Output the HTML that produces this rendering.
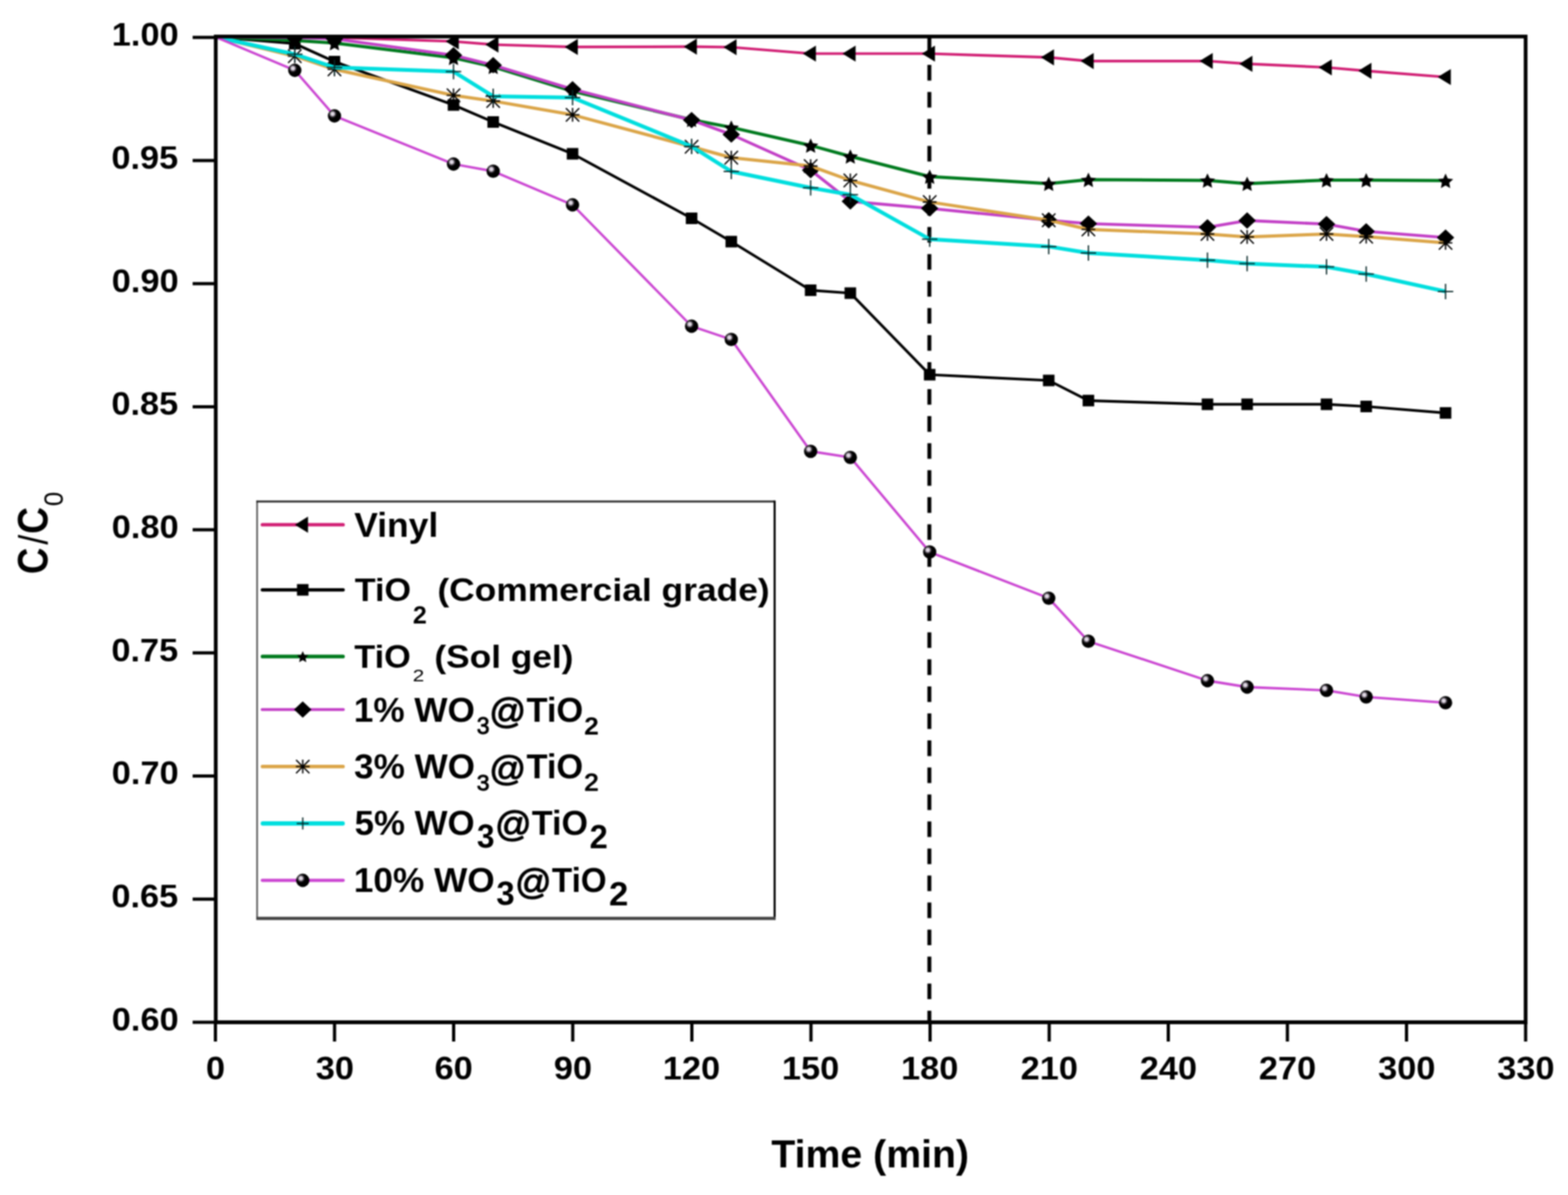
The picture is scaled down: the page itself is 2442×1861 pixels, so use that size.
<!DOCTYPE html><html><head><meta charset="utf-8"><title>C/C0 vs Time</title><style>html,body{margin:0;padding:0;background:#fff;overflow:hidden}svg{display:block;filter:blur(1px)}text{font-family:"Liberation Sans",Arial,sans-serif;font-weight:bold;fill:#000}</style></head><body>
<svg width="2442" height="1861" viewBox="0 0 2442 1861">
<defs><radialGradient id="sph" cx="0.36" cy="0.35" r="0.7" fx="0.36" fy="0.35"><stop offset="0" stop-color="#ece6f0"/><stop offset="0.17" stop-color="#d8d0dc"/><stop offset="0.33" stop-color="#3a353c"/><stop offset="0.46" stop-color="#000"/></radialGradient></defs>
<rect width="2442" height="1861" fill="#fff"/>
<clipPath id="pc"><rect x="336.0" y="56.8" width="2040.0" height="1535.2"/></clipPath>
<g clip-path="url(#pc)">
<line x1="1447.4" y1="59" x2="1447.4" y2="1592.0" stroke="#000" stroke-width="6.1" stroke-dasharray="24.3 17.78"/>
<polyline points="335.5,57.5 459.1,57.8 520.9,58.3 706.3,64.5 768.1,69.5 891.7,73.2 1077.1,72.7 1138.9,73.5 1262.5,83.5 1324.3,83.5 1447.9,83.5 1633.3,89.3 1695.1,95.1 1880.5,95.0 1942.3,99.4 2065.9,105.0 2127.7,110.3 2251.3,120.0" fill="none" stroke="#D11F74" stroke-width="4.2" stroke-linejoin="round"/>
<g fill="#000">
<path d="M446.9,57.8L467.3,45.2L467.3,70.4Z"/>
<path d="M508.7,58.3L529.1,45.7L529.1,70.9Z"/>
<path d="M694.1,64.5L714.5,51.9L714.5,77.1Z"/>
<path d="M755.9,69.5L776.3,56.9L776.3,82.1Z"/>
<path d="M879.5,73.2L899.9,60.6L899.9,85.8Z"/>
<path d="M1064.9,72.7L1085.3,60.1L1085.3,85.3Z"/>
<path d="M1126.7,73.5L1147.1,60.9L1147.1,86.1Z"/>
<path d="M1250.3,83.5L1270.7,70.9L1270.7,96.1Z"/>
<path d="M1312.1,83.5L1332.5,70.9L1332.5,96.1Z"/>
<path d="M1435.7,83.5L1456.1,70.9L1456.1,96.1Z"/>
<path d="M1621.1,89.3L1641.5,76.7L1641.5,101.9Z"/>
<path d="M1682.9,95.1L1703.3,82.5L1703.3,107.7Z"/>
<path d="M1868.3,95.0L1888.7,82.4L1888.7,107.6Z"/>
<path d="M1930.1,99.4L1950.5,86.8L1950.5,112.0Z"/>
<path d="M2053.7,105.0L2074.1,92.4L2074.1,117.6Z"/>
<path d="M2115.5,110.3L2135.9,97.7L2135.9,122.9Z"/>
<path d="M2239.1,120.0L2259.5,107.4L2259.5,132.6Z"/>
</g>
<polyline points="335.5,57.5 459.1,68.0 520.9,96.0 706.3,163.5 768.1,190.0 891.7,239.5 1077.1,340.0 1138.9,376.3 1262.5,452.0 1324.3,456.5 1447.9,583.5 1633.3,592.5 1695.1,623.8 1880.5,629.6 1942.3,629.6 2065.9,629.6 2127.7,633.0 2251.3,643.1" fill="none" stroke="#000000" stroke-width="4.2" stroke-linejoin="round"/>
<g fill="#000">
<rect x="450.1" y="59.0" width="18.0" height="18.0"/>
<rect x="511.9" y="87.0" width="18.0" height="18.0"/>
<rect x="697.3" y="154.5" width="18.0" height="18.0"/>
<rect x="759.1" y="181.0" width="18.0" height="18.0"/>
<rect x="882.7" y="230.5" width="18.0" height="18.0"/>
<rect x="1068.1" y="331.0" width="18.0" height="18.0"/>
<rect x="1129.9" y="367.3" width="18.0" height="18.0"/>
<rect x="1253.5" y="443.0" width="18.0" height="18.0"/>
<rect x="1315.3" y="447.5" width="18.0" height="18.0"/>
<rect x="1438.9" y="574.5" width="18.0" height="18.0"/>
<rect x="1624.3" y="583.5" width="18.0" height="18.0"/>
<rect x="1686.1" y="614.8" width="18.0" height="18.0"/>
<rect x="1871.5" y="620.6" width="18.0" height="18.0"/>
<rect x="1933.3" y="620.6" width="18.0" height="18.0"/>
<rect x="2056.9" y="620.6" width="18.0" height="18.0"/>
<rect x="2118.7" y="624.0" width="18.0" height="18.0"/>
<rect x="2242.3" y="634.1" width="18.0" height="18.0"/>
</g>
<polyline points="335.5,57.5 459.1,63.0 520.9,67.0 706.3,90.0 768.1,104.0 891.7,142.0 1077.1,186.5 1138.9,198.4 1262.5,226.5 1324.3,243.5 1447.9,275.0 1633.3,286.0 1695.1,279.8 1880.5,281.0 1942.3,286.0 2065.9,280.4 2127.7,280.4 2251.3,281.3" fill="none" stroke="#007A1E" stroke-width="5.0" stroke-linejoin="round"/>
<g fill="#000">
<polygon points="459.1,52.0 462.6,59.6 471.0,60.6 464.8,66.4 466.4,74.6 459.1,70.5 451.8,74.6 453.4,66.4 447.2,60.6 455.6,59.6"/>
<polygon points="520.9,56.0 524.4,63.6 532.8,64.6 526.6,70.4 528.2,78.6 520.9,74.5 513.6,78.6 515.2,70.4 509.0,64.6 517.4,63.6"/>
<polygon points="706.3,79.0 709.8,86.6 718.2,87.6 712.0,93.4 713.6,101.6 706.3,97.5 699.0,101.6 700.6,93.4 694.4,87.6 702.8,86.6"/>
<polygon points="768.1,93.0 771.6,100.6 780.0,101.6 773.8,107.4 775.4,115.6 768.1,111.5 760.8,115.6 762.4,107.4 756.2,101.6 764.6,100.6"/>
<polygon points="891.7,131.0 895.2,138.6 903.6,139.6 897.4,145.4 899.0,153.6 891.7,149.5 884.4,153.6 886.0,145.4 879.8,139.6 888.2,138.6"/>
<polygon points="1077.1,175.5 1080.6,183.1 1089.0,184.1 1082.8,189.9 1084.4,198.1 1077.1,194.0 1069.8,198.1 1071.4,189.9 1065.2,184.1 1073.6,183.1"/>
<polygon points="1138.9,187.4 1142.4,195.0 1150.8,196.0 1144.6,201.8 1146.2,210.0 1138.9,205.9 1131.6,210.0 1133.2,201.8 1127.0,196.0 1135.4,195.0"/>
<polygon points="1262.5,215.5 1266.0,223.1 1274.4,224.1 1268.2,229.9 1269.8,238.1 1262.5,234.0 1255.2,238.1 1256.8,229.9 1250.6,224.1 1259.0,223.1"/>
<polygon points="1324.3,232.5 1327.8,240.1 1336.2,241.1 1330.0,246.9 1331.6,255.1 1324.3,251.0 1317.0,255.1 1318.6,246.9 1312.4,241.1 1320.8,240.1"/>
<polygon points="1447.9,264.0 1451.4,271.6 1459.8,272.6 1453.6,278.4 1455.2,286.6 1447.9,282.5 1440.6,286.6 1442.2,278.4 1436.0,272.6 1444.4,271.6"/>
<polygon points="1633.3,275.0 1636.8,282.6 1645.2,283.6 1639.0,289.4 1640.6,297.6 1633.3,293.5 1626.0,297.6 1627.6,289.4 1621.4,283.6 1629.8,282.6"/>
<polygon points="1695.1,268.8 1698.6,276.4 1707.0,277.4 1700.8,283.2 1702.4,291.4 1695.1,287.3 1687.8,291.4 1689.4,283.2 1683.2,277.4 1691.6,276.4"/>
<polygon points="1880.5,270.0 1884.0,277.6 1892.4,278.6 1886.2,284.4 1887.8,292.6 1880.5,288.5 1873.2,292.6 1874.8,284.4 1868.6,278.6 1877.0,277.6"/>
<polygon points="1942.3,275.0 1945.8,282.6 1954.2,283.6 1948.0,289.4 1949.6,297.6 1942.3,293.5 1935.0,297.6 1936.6,289.4 1930.4,283.6 1938.8,282.6"/>
<polygon points="2065.9,269.4 2069.4,277.0 2077.8,278.0 2071.6,283.8 2073.2,292.0 2065.9,287.9 2058.6,292.0 2060.2,283.8 2054.0,278.0 2062.4,277.0"/>
<polygon points="2127.7,269.4 2131.2,277.0 2139.6,278.0 2133.4,283.8 2135.0,292.0 2127.7,287.9 2120.4,292.0 2122.0,283.8 2115.8,278.0 2124.2,277.0"/>
<polygon points="2251.3,270.3 2254.8,277.9 2263.2,278.9 2257.0,284.7 2258.6,292.9 2251.3,288.8 2244.0,292.9 2245.6,284.7 2239.4,278.9 2247.8,277.9"/>
</g>
<polyline points="335.5,57.5 459.1,58.5 520.9,60.5 706.3,86.0 768.1,101.5 891.7,139.0 1077.1,187.0 1138.9,209.5 1262.5,265.0 1324.3,313.6 1447.9,324.5 1633.3,343.0 1695.1,348.2 1880.5,354.0 1942.3,343.4 2065.9,349.0 2127.7,360.2 2251.3,370.0" fill="none" stroke="#C23FC6" stroke-width="4.6" stroke-linejoin="round"/>
<g fill="#000">
<path d="M459.1,45.7L472.7,58.5L459.1,71.3L445.5,58.5Z"/>
<path d="M520.9,47.7L534.5,60.5L520.9,73.3L507.3,60.5Z"/>
<path d="M706.3,73.2L719.9,86.0L706.3,98.8L692.7,86.0Z"/>
<path d="M768.1,88.7L781.7,101.5L768.1,114.3L754.5,101.5Z"/>
<path d="M891.7,126.2L905.3,139.0L891.7,151.8L878.1,139.0Z"/>
<path d="M1077.1,174.2L1090.7,187.0L1077.1,199.8L1063.5,187.0Z"/>
<path d="M1138.9,196.7L1152.5,209.5L1138.9,222.3L1125.3,209.5Z"/>
<path d="M1262.5,252.2L1276.1,265.0L1262.5,277.8L1248.9,265.0Z"/>
<path d="M1324.3,300.8L1337.9,313.6L1324.3,326.4L1310.7,313.6Z"/>
<path d="M1447.9,311.7L1461.5,324.5L1447.9,337.3L1434.3,324.5Z"/>
<path d="M1633.3,330.2L1646.9,343.0L1633.3,355.8L1619.7,343.0Z"/>
<path d="M1695.1,335.4L1708.7,348.2L1695.1,361.0L1681.5,348.2Z"/>
<path d="M1880.5,341.2L1894.1,354.0L1880.5,366.8L1866.9,354.0Z"/>
<path d="M1942.3,330.6L1955.9,343.4L1942.3,356.2L1928.7,343.4Z"/>
<path d="M2065.9,336.2L2079.5,349.0L2065.9,361.8L2052.3,349.0Z"/>
<path d="M2127.7,347.4L2141.3,360.2L2127.7,373.0L2114.1,360.2Z"/>
<path d="M2251.3,357.2L2264.9,370.0L2251.3,382.8L2237.7,370.0Z"/>
</g>
<polyline points="335.5,57.5 459.1,87.5 520.9,108.0 706.3,148.5 768.1,157.4 891.7,178.8 1077.1,228.5 1138.9,245.5 1262.5,258.6 1324.3,281.0 1447.9,314.6 1633.3,343.0 1695.1,357.3 1880.5,364.4 1942.3,369.0 2065.9,364.4 2127.7,368.6 2251.3,378.3" fill="none" stroke="#DBA548" stroke-width="5.0" stroke-linejoin="round"/>
<g fill="#000">
<path d="M448.4,87.5H469.8M459.1,76.8V98.2M448.7,77.1L469.5,97.9M448.7,97.9L469.5,77.1" stroke="#000" stroke-width="2.1" fill="none"/>
<path d="M510.2,108.0H531.6M520.9,97.3V118.7M510.5,97.6L531.3,118.4M510.5,118.4L531.3,97.6" stroke="#000" stroke-width="2.1" fill="none"/>
<path d="M695.6,148.5H717.0M706.3,137.8V159.2M695.9,138.1L716.7,158.9M695.9,158.9L716.7,138.1" stroke="#000" stroke-width="2.1" fill="none"/>
<path d="M757.4,157.4H778.8M768.1,146.7V168.1M757.7,147.0L778.5,167.8M757.7,167.8L778.5,147.0" stroke="#000" stroke-width="2.1" fill="none"/>
<path d="M881.0,178.8H902.4M891.7,168.1V189.5M881.3,168.4L902.1,189.2M881.3,189.2L902.1,168.4" stroke="#000" stroke-width="2.1" fill="none"/>
<path d="M1066.4,228.5H1087.8M1077.1,217.8V239.2M1066.7,218.1L1087.5,238.9M1066.7,238.9L1087.5,218.1" stroke="#000" stroke-width="2.1" fill="none"/>
<path d="M1128.2,245.5H1149.6M1138.9,234.8V256.2M1128.5,235.1L1149.3,255.9M1128.5,255.9L1149.3,235.1" stroke="#000" stroke-width="2.1" fill="none"/>
<path d="M1251.8,258.6H1273.2M1262.5,247.9V269.3M1252.1,248.2L1272.9,269.0M1252.1,269.0L1272.9,248.2" stroke="#000" stroke-width="2.1" fill="none"/>
<path d="M1313.6,281.0H1335.0M1324.3,270.3V291.7M1313.9,270.6L1334.7,291.4M1313.9,291.4L1334.7,270.6" stroke="#000" stroke-width="2.1" fill="none"/>
<path d="M1437.2,314.6H1458.6M1447.9,303.9V325.3M1437.5,304.2L1458.3,325.0M1437.5,325.0L1458.3,304.2" stroke="#000" stroke-width="2.1" fill="none"/>
<path d="M1622.6,343.0H1644.0M1633.3,332.3V353.7M1622.9,332.6L1643.7,353.4M1622.9,353.4L1643.7,332.6" stroke="#000" stroke-width="2.1" fill="none"/>
<path d="M1684.4,357.3H1705.8M1695.1,346.6V368.0M1684.7,346.9L1705.5,367.7M1684.7,367.7L1705.5,346.9" stroke="#000" stroke-width="2.1" fill="none"/>
<path d="M1869.8,364.4H1891.2M1880.5,353.7V375.1M1870.1,354.0L1890.9,374.8M1870.1,374.8L1890.9,354.0" stroke="#000" stroke-width="2.1" fill="none"/>
<path d="M1931.6,369.0H1953.0M1942.3,358.3V379.7M1931.9,358.6L1952.7,379.4M1931.9,379.4L1952.7,358.6" stroke="#000" stroke-width="2.1" fill="none"/>
<path d="M2055.2,364.4H2076.6M2065.9,353.7V375.1M2055.5,354.0L2076.3,374.8M2055.5,374.8L2076.3,354.0" stroke="#000" stroke-width="2.1" fill="none"/>
<path d="M2117.0,368.6H2138.4M2127.7,357.9V379.3M2117.3,358.2L2138.1,379.0M2117.3,379.0L2138.1,358.2" stroke="#000" stroke-width="2.1" fill="none"/>
<path d="M2240.6,378.3H2262.0M2251.3,367.6V389.0M2240.9,367.9L2261.7,388.7M2240.9,388.7L2261.7,367.9" stroke="#000" stroke-width="2.1" fill="none"/>
</g>
<polyline points="335.5,57.5 459.1,84.5 520.9,105.0 706.3,111.5 768.1,150.0 891.7,152.0 1077.1,228.0 1138.9,267.0 1262.5,292.5 1324.3,303.3 1447.9,372.5 1633.3,383.9 1695.1,394.0 1880.5,405.2 1942.3,410.5 2065.9,415.6 2127.7,426.8 2251.3,453.9" fill="none" stroke="#00DEDE" stroke-width="6.0" stroke-linejoin="round"/>
<g fill="#000">
<path d="M447.1,84.5H471.1M459.1,72.5V96.5" stroke="#062626" stroke-width="2" fill="none"/>
<path d="M508.9,105.0H532.9M520.9,93.0V117.0" stroke="#062626" stroke-width="2" fill="none"/>
<path d="M694.3,111.5H718.3M706.3,99.5V123.5" stroke="#062626" stroke-width="2" fill="none"/>
<path d="M756.1,150.0H780.1M768.1,138.0V162.0" stroke="#062626" stroke-width="2" fill="none"/>
<path d="M879.7,152.0H903.7M891.7,140.0V164.0" stroke="#062626" stroke-width="2" fill="none"/>
<path d="M1065.1,228.0H1089.1M1077.1,216.0V240.0" stroke="#062626" stroke-width="2" fill="none"/>
<path d="M1126.9,267.0H1150.9M1138.9,255.0V279.0" stroke="#062626" stroke-width="2" fill="none"/>
<path d="M1250.5,292.5H1274.5M1262.5,280.5V304.5" stroke="#062626" stroke-width="2" fill="none"/>
<path d="M1312.3,303.3H1336.3M1324.3,291.3V315.3" stroke="#062626" stroke-width="2" fill="none"/>
<path d="M1435.9,372.5H1459.9M1447.9,360.5V384.5" stroke="#062626" stroke-width="2" fill="none"/>
<path d="M1621.3,383.9H1645.3M1633.3,371.9V395.9" stroke="#062626" stroke-width="2" fill="none"/>
<path d="M1683.1,394.0H1707.1M1695.1,382.0V406.0" stroke="#062626" stroke-width="2" fill="none"/>
<path d="M1868.5,405.2H1892.5M1880.5,393.2V417.2" stroke="#062626" stroke-width="2" fill="none"/>
<path d="M1930.3,410.5H1954.3M1942.3,398.5V422.5" stroke="#062626" stroke-width="2" fill="none"/>
<path d="M2053.9,415.6H2077.9M2065.9,403.6V427.6" stroke="#062626" stroke-width="2" fill="none"/>
<path d="M2115.7,426.8H2139.7M2127.7,414.8V438.8" stroke="#062626" stroke-width="2" fill="none"/>
<path d="M2239.3,453.9H2263.3M2251.3,441.9V465.9" stroke="#062626" stroke-width="2" fill="none"/>
</g>
<polyline points="335.5,57.5 459.1,109.5 520.9,180.5 706.3,255.5 768.1,266.7 891.7,319.0 1077.1,508.0 1138.9,528.7 1262.5,702.8 1324.3,712.3 1447.9,859.7 1633.3,931.6 1695.1,998.7 1880.5,1060.0 1942.3,1070.0 2065.9,1075.1 2127.7,1085.3 2251.3,1094.4" fill="none" stroke="#CB46D2" stroke-width="3.8" stroke-linejoin="round"/>
<g fill="#000">
<circle cx="459.1" cy="109.5" r="10.4" fill="url(#sph)"/>
<circle cx="520.9" cy="180.5" r="10.4" fill="url(#sph)"/>
<circle cx="706.3" cy="255.5" r="10.4" fill="url(#sph)"/>
<circle cx="768.1" cy="266.7" r="10.4" fill="url(#sph)"/>
<circle cx="891.7" cy="319.0" r="10.4" fill="url(#sph)"/>
<circle cx="1077.1" cy="508.0" r="10.4" fill="url(#sph)"/>
<circle cx="1138.9" cy="528.7" r="10.4" fill="url(#sph)"/>
<circle cx="1262.5" cy="702.8" r="10.4" fill="url(#sph)"/>
<circle cx="1324.3" cy="712.3" r="10.4" fill="url(#sph)"/>
<circle cx="1447.9" cy="859.7" r="10.4" fill="url(#sph)"/>
<circle cx="1633.3" cy="931.6" r="10.4" fill="url(#sph)"/>
<circle cx="1695.1" cy="998.7" r="10.4" fill="url(#sph)"/>
<circle cx="1880.5" cy="1060.0" r="10.4" fill="url(#sph)"/>
<circle cx="1942.3" cy="1070.0" r="10.4" fill="url(#sph)"/>
<circle cx="2065.9" cy="1075.1" r="10.4" fill="url(#sph)"/>
<circle cx="2127.7" cy="1085.3" r="10.4" fill="url(#sph)"/>
<circle cx="2251.3" cy="1094.4" r="10.4" fill="url(#sph)"/>
</g>
</g>
<path d="M336.0,56.8H2376.0V1592.0H336.0Z" fill="none" stroke="#000" stroke-width="5.8"/>
<line x1="300" y1="58.3" x2="336.0" y2="58.3" stroke="#000" stroke-width="5"/>
<text transform="translate(174.09 71.20) scale(1.0550 1)" font-size="50.7">1.00</text>
<line x1="300" y1="250.0" x2="336.0" y2="250.0" stroke="#000" stroke-width="5"/>
<text transform="translate(173.38 262.90) scale(1.0550 1)" font-size="50.7">0.95</text>
<line x1="300" y1="441.7" x2="336.0" y2="441.7" stroke="#000" stroke-width="5"/>
<text transform="translate(174.09 454.60) scale(1.0550 1)" font-size="50.7">0.90</text>
<line x1="300" y1="633.4" x2="336.0" y2="633.4" stroke="#000" stroke-width="5"/>
<text transform="translate(173.38 646.30) scale(1.0550 1)" font-size="50.7">0.85</text>
<line x1="300" y1="825.1" x2="336.0" y2="825.1" stroke="#000" stroke-width="5"/>
<text transform="translate(174.09 838.00) scale(1.0550 1)" font-size="50.7">0.80</text>
<line x1="300" y1="1016.8" x2="336.0" y2="1016.8" stroke="#000" stroke-width="5"/>
<text transform="translate(173.38 1029.70) scale(1.0550 1)" font-size="50.7">0.75</text>
<line x1="300" y1="1208.5" x2="336.0" y2="1208.5" stroke="#000" stroke-width="5"/>
<text transform="translate(174.09 1221.40) scale(1.0550 1)" font-size="50.7">0.70</text>
<line x1="300" y1="1400.2" x2="336.0" y2="1400.2" stroke="#000" stroke-width="5"/>
<text transform="translate(173.38 1413.10) scale(1.0550 1)" font-size="50.7">0.65</text>
<line x1="300" y1="1591.9" x2="336.0" y2="1591.9" stroke="#000" stroke-width="5"/>
<text transform="translate(174.09 1604.80) scale(1.0550 1)" font-size="50.7">0.60</text>
<line x1="335.5" y1="1592.0" x2="335.5" y2="1622" stroke="#000" stroke-width="5"/>
<text transform="translate(320.65 1681.30) scale(1.0600 1)" font-size="50.5">0</text>
<line x1="521.0" y1="1592.0" x2="521.0" y2="1622" stroke="#000" stroke-width="5"/>
<text transform="translate(491.71 1681.30) scale(1.0600 1)" font-size="50.5">30</text>
<line x1="706.5" y1="1592.0" x2="706.5" y2="1622" stroke="#000" stroke-width="5"/>
<text transform="translate(676.85 1681.30) scale(1.0600 1)" font-size="50.5">60</text>
<line x1="892.0" y1="1592.0" x2="892.0" y2="1622" stroke="#000" stroke-width="5"/>
<text transform="translate(862.40 1681.30) scale(1.0600 1)" font-size="50.5">90</text>
<line x1="1077.5" y1="1592.0" x2="1077.5" y2="1622" stroke="#000" stroke-width="5"/>
<text transform="translate(1032.26 1681.30) scale(1.0600 1)" font-size="50.5">120</text>
<line x1="1263.0" y1="1592.0" x2="1263.0" y2="1622" stroke="#000" stroke-width="5"/>
<text transform="translate(1217.76 1681.30) scale(1.0600 1)" font-size="50.5">150</text>
<line x1="1448.5" y1="1592.0" x2="1448.5" y2="1622" stroke="#000" stroke-width="5"/>
<text transform="translate(1403.26 1681.30) scale(1.0600 1)" font-size="50.5">180</text>
<line x1="1634.0" y1="1592.0" x2="1634.0" y2="1622" stroke="#000" stroke-width="5"/>
<text transform="translate(1589.51 1681.30) scale(1.0600 1)" font-size="50.5">210</text>
<line x1="1819.5" y1="1592.0" x2="1819.5" y2="1622" stroke="#000" stroke-width="5"/>
<text transform="translate(1775.01 1681.30) scale(1.0600 1)" font-size="50.5">240</text>
<line x1="2005.0" y1="1592.0" x2="2005.0" y2="1622" stroke="#000" stroke-width="5"/>
<text transform="translate(1960.51 1681.30) scale(1.0600 1)" font-size="50.5">270</text>
<line x1="2190.5" y1="1592.0" x2="2190.5" y2="1622" stroke="#000" stroke-width="5"/>
<text transform="translate(2146.33 1681.30) scale(1.0600 1)" font-size="50.5">300</text>
<line x1="2376.0" y1="1592.0" x2="2376.0" y2="1622" stroke="#000" stroke-width="5"/>
<text transform="translate(2331.83 1681.30) scale(1.0600 1)" font-size="50.5">330</text>
<text transform="translate(1201.31 1818.20) scale(1.0087 1)" font-size="60.6">Time (min)</text>
<text transform="translate(74.00 894.03) rotate(-90) scale(0.8469 1)" font-size="67">C</text>
<text transform="translate(74.00 848.30) rotate(-90) scale(0.8940 1)" font-size="62" style="font-weight:normal">/</text>
<text transform="translate(74.00 831.58) rotate(-90) scale(0.8652 1)" font-size="67">C</text>
<text transform="translate(98.30 788.27) rotate(-90) scale(0.9609 1)" font-size="41.8" style="font-weight:normal">0</text>
<rect x="400.4" y="781.1" width="806.0" height="649.1" fill="#fff"/>
<line x1="400.4" y1="779.8000000000001" x2="400.4" y2="1430.2" stroke="#5a5a5a" stroke-width="2.6"/>
<line x1="399.09999999999997" y1="781.1" x2="1206.4" y2="781.1" stroke="#262626" stroke-width="3"/>
<line x1="1206.4" y1="779.6" x2="1206.4" y2="1432.2" stroke="#000" stroke-width="3.2"/>
<line x1="399.09999999999997" y1="1430.2" x2="1208.0" y2="1430.2" stroke="#444" stroke-width="5"/>
<line x1="408.6" y1="817.2" x2="534.4" y2="817.2" stroke="#D11F74" stroke-width="5.2" stroke-linecap="round"/>
<g fill="#000"><path d="M459.3,817.2L479.7,804.6L479.7,829.8Z"/></g>
<line x1="408.6" y1="918.6" x2="534.4" y2="918.6" stroke="#000000" stroke-width="5.2" stroke-linecap="round"/>
<g fill="#000"><rect x="462.5" y="909.6" width="18.0" height="18.0"/></g>
<line x1="408.8" y1="1022.4" x2="534.2" y2="1022.4" stroke="#007A1E" stroke-width="5.6" stroke-linecap="round"/>
<g fill="#000"><polygon points="471.5,1014.0 474.2,1019.9 480.5,1020.6 475.8,1024.9 477.1,1031.2 471.5,1028.1 465.9,1031.2 467.2,1024.9 462.5,1020.6 468.8,1019.9"/></g>
<line x1="408.2" y1="1105" x2="534.8" y2="1105" stroke="#C23FC6" stroke-width="4.4" stroke-linecap="round"/>
<g fill="#000"><path d="M471.5,1092.2L485.1,1105.0L471.5,1117.8L457.9,1105.0Z"/></g>
<line x1="408.8" y1="1193.8" x2="534.2" y2="1193.8" stroke="#DBA548" stroke-width="5.6" stroke-linecap="round"/>
<g fill="#000"><path d="M460.8,1193.8H482.2M471.5,1183.1V1204.5M461.1,1183.4L481.9,1204.2M461.1,1204.2L481.9,1183.4" stroke="#000" stroke-width="2.1" fill="none"/></g>
<line x1="409.3" y1="1282.4" x2="533.7" y2="1282.4" stroke="#00DEDE" stroke-width="6.6" stroke-linecap="round"/>
<g fill="#000"><path d="M462.1,1282.4H480.9M471.5,1273.0V1291.8" stroke="#062626" stroke-width="2" fill="none"/></g>
<line x1="408.4" y1="1371" x2="534.6" y2="1371" stroke="#CB46D2" stroke-width="4.8" stroke-linecap="round"/>
<g fill="#000"><circle cx="471.5" cy="1371.0" r="10.4" fill="url(#sph)"/></g>
<text transform="translate(551.82 836.30) scale(1.0338 1)" font-size="53.3">Vinyl</text>
<text transform="translate(552.40 936.00) scale(1.0726 1)" font-size="49.7">TiO</text>
<text transform="translate(643.05 970.80) scale(1.0276 1)" font-size="38">2</text>
<text transform="translate(681.16 936.00) scale(1.1089 1)" font-size="49.7">(Commercial grade)</text>
<text transform="translate(551.80 1040.30) scale(1.0674 1)" font-size="50">TiO</text>
<text transform="translate(642.78 1061.30) scale(1.2411 1)" font-size="26" style="font-weight:normal">2</text>
<text transform="translate(676.46 1040.30) scale(1.0992 1)" font-size="50">(Sol gel)</text>
<text transform="translate(550.95 1123.60) scale(1.0242 1)" font-size="53.5">1% WO</text>
<text transform="translate(742.58 1143.35) scale(0.9639 1)" font-size="37.2" style="font-weight:normal;stroke:#000;stroke-width:1.3px;stroke-linejoin:round">3</text>
<text transform="translate(762.11 1125.65) scale(1.0174 1)" font-size="55.5" style="font-weight:normal;stroke:#000;stroke-width:1.5px;stroke-linejoin:round">@</text>
<text transform="translate(819.90 1123.60) scale(1.0034 1)" font-size="53.5">TiO</text>
<text transform="translate(909.87 1144.20) scale(1.0682 1)" font-size="38.5">2</text>
<text transform="translate(551.55 1211.60) scale(1.0305 1)" font-size="53">3% WO</text>
<text transform="translate(742.58 1230.95) scale(1.0393 1)" font-size="34.5" style="font-weight:normal;stroke:#000;stroke-width:1.3px;stroke-linejoin:round">3</text>
<text transform="translate(762.11 1215.10) scale(1.0360 1)" font-size="54.5" style="font-weight:normal;stroke:#000;stroke-width:1.5px;stroke-linejoin:round">@</text>
<text transform="translate(819.90 1211.60) scale(1.0128 1)" font-size="53">TiO</text>
<text transform="translate(910.09 1230.80) scale(1.0945 1)" font-size="36.5" style="font-weight:normal;stroke:#000;stroke-width:1.6px;stroke-linejoin:round">2</text>
<text transform="translate(552.23 1300.20) scale(1.0239 1)" font-size="53">5% WO</text>
<text transform="translate(742.77 1320.40) scale(0.9571 1)" font-size="51.5">3</text>
<text transform="translate(770.95 1302.35) scale(1.0181 1)" font-size="55" style="font-weight:normal;stroke:#000;stroke-width:1.5px;stroke-linejoin:round">@</text>
<text transform="translate(828.30 1300.20) scale(1.0000 1)" font-size="53">TiO</text>
<text transform="translate(918.34 1320.90) scale(0.9881 1)" font-size="51.5">2</text>
<text transform="translate(550.94 1388.60) scale(1.0354 1)" font-size="53">10% WO</text>
<text transform="translate(772.92 1409.30) scale(0.9961 1)" font-size="51.5">3</text>
<text transform="translate(802.26 1392.35) scale(1.0159 1)" font-size="55" style="font-weight:normal;stroke:#000;stroke-width:1.5px;stroke-linejoin:round">@</text>
<text transform="translate(859.52 1388.60) scale(0.9766 1)" font-size="53">TiO</text>
<text transform="translate(948.53 1410.30) scale(1.0385 1)" font-size="52">2</text>
</svg></body></html>
